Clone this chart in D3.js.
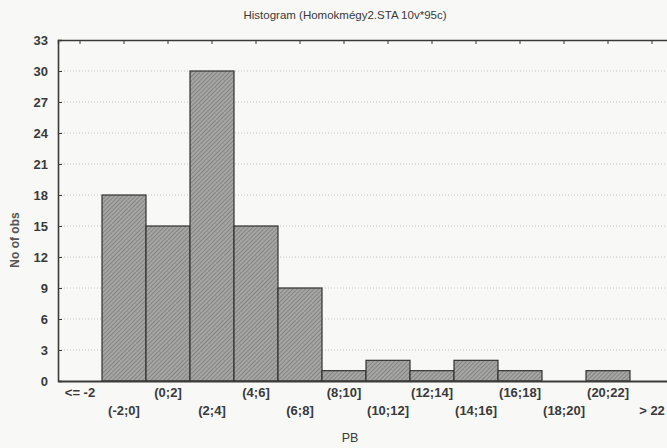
<!DOCTYPE html>
<html><head><meta charset="utf-8">
<script src="https://cdn.jsdelivr.net/npm/d3@7"></script>
<style>body{margin:0;background:#f8f8f6;} svg{display:block;}</style>
</head><body>
<svg id="c" width="667" height="448"></svg>
<script>
const categories = ["<= -2","(-2;0]","(0;2]","(2;4]","(4;6]","(6;8]","(8;10]","(10;12]","(12;14]","(14;16]","(16;18]","(18;20]","(20;22]","> 22"];
const counts = [0,18,15,30,15,9,1,2,1,2,1,0,1,0];
const yTicks = [0,3,6,9,12,15,18,21,24,27,30,33];
const title = "Histogram (Homokmégy2.STA 10v*95c)";
const xTitle = "PB";
const yTitle = "No of obs";

const svg = d3.select("#c");
const mLeft = 58, mTop = 40, mBottom = 381, mRight = 674;
const x = d3.scaleBand().domain(categories).range([mLeft, mRight]).padding(0);
const y = d3.scaleLinear().domain([0, 33]).range([mBottom, mTop]);
const font = "'Liberation Sans', Arial, sans-serif";
const ink = "#3a3a3a";

const defs = svg.append("defs");
const pat = defs.append("pattern").attr("id","hatch").attr("patternUnits","userSpaceOnUse")
  .attr("width",3).attr("height",3).attr("patternTransform","rotate(45)");
pat.append("rect").attr("width",3).attr("height",3).attr("fill","#a6a6a4");
pat.append("line").attr("x1",0).attr("y1",0).attr("x2",0).attr("y2",3).attr("stroke","#727270").attr("stroke-width",1.3);

// gridlines
svg.append("g").selectAll("line").data(yTicks.filter(d => d>0 && d<33)).join("line")
  .attr("x1", mLeft).attr("x2", mRight).attr("y1", d => y(d)).attr("y2", d => y(d))
  .attr("stroke","#b8b8b8").attr("stroke-width",0.8).attr("stroke-dasharray","1,2");

// bars
svg.append("g").selectAll("rect").data(categories.map((c,i)=>({c, v:counts[i]})).filter(d=>d.v>0)).join("rect")
  .attr("x", d => x(d.c)).attr("width", x.bandwidth())
  .attr("y", d => y(d.v)).attr("height", d => y(0) - y(d.v))
  .attr("fill","url(#hatch)").attr("stroke","#333").attr("stroke-width",1.2);

// left axis
const yAxis = d3.axisLeft(y).tickValues(yTicks).tickSize(-4).tickPadding(10).tickFormat(d3.format("d"));
const gy = svg.append("g").attr("transform",`translate(${mLeft},0)`).call(yAxis);
gy.select(".domain").attr("stroke",ink).attr("stroke-width",1.6);
gy.selectAll(".tick line").attr("stroke",ink);
gy.selectAll("text").attr("font-family",font).attr("font-size",13).attr("font-weight","bold").attr("fill",ink);

// top border
const xTop = d3.axisTop(x).tickSize(-4).tickFormat("");
const gt = svg.append("g").attr("transform",`translate(0,${mTop})`).call(xTop);
gt.select(".domain").attr("stroke",ink).attr("stroke-width",1.4);
gt.selectAll(".tick line").attr("stroke",ink);

// bottom axis
const xAxis = d3.axisBottom(x).tickSize(0).tickPadding(0);
const gx = svg.append("g").attr("transform",`translate(0,${mBottom})`).call(xAxis);
gx.select(".domain").attr("stroke",ink).attr("stroke-width",1.8);
gx.selectAll(".tick text").attr("font-family",font).attr("font-size",13).attr("font-weight","bold").attr("fill",ink)
  .attr("dy", null).attr("y", (d,i) => i % 2 === 0 ? 16 : 34);

// titles
svg.append("text").attr("x",345).attr("y",19).attr("text-anchor","middle")
  .attr("font-family",font).attr("font-size",11.5).attr("fill",ink).text(title);
svg.append("text").attr("x",350).attr("y",442).attr("text-anchor","middle")
  .attr("font-family",font).attr("font-size",12.5).attr("fill",ink).text(xTitle);
svg.append("text").attr("transform","translate(19,240) rotate(-90)").attr("text-anchor","middle")
  .attr("font-family",font).attr("font-size",12).attr("font-weight","bold").attr("fill","#555").text(yTitle);
</script>
</body></html>
